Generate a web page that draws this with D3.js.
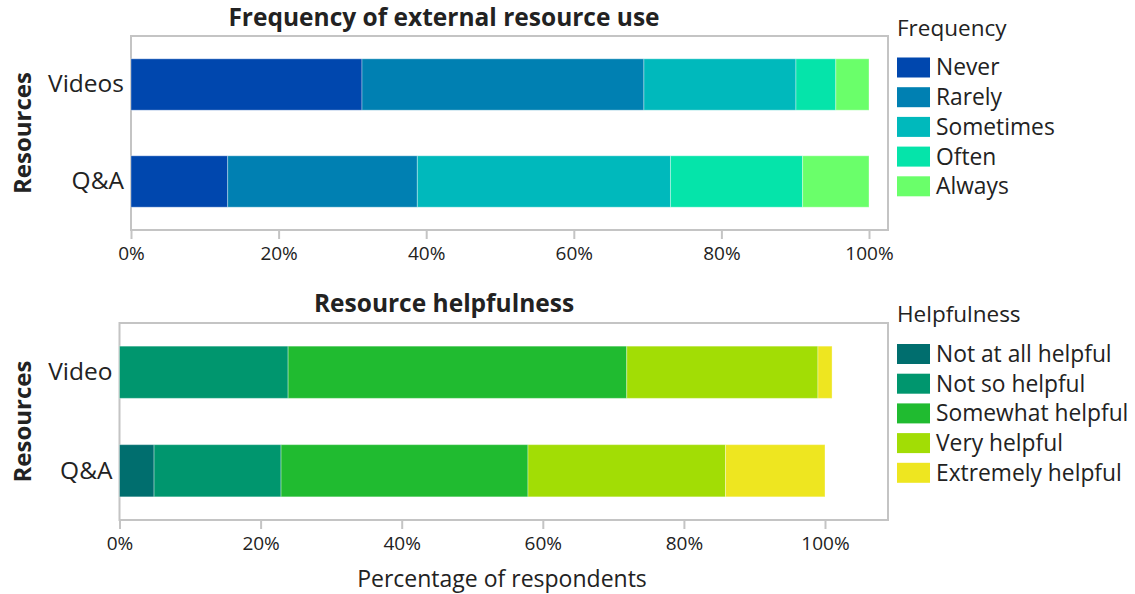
<!DOCTYPE html>
<html>
<head>
<meta charset="utf-8">
<script src="https://cdn.jsdelivr.net/npm/d3@7"></script>
<style>
  html, body { margin: 0; padding: 0; background: #fff; }
  svg { display: block; }
  text { font-family: "Open Sans", "Noto Sans", sans-serif; fill: #222; }
</style>
</head>
<body>
<svg id="chart" width="1135" height="594"></svg>
<script>
// ---------- data ----------
const resourcesTop = ["Videos", "Q&A"];
const frequencyLevels = ["Never", "Rarely", "Sometimes", "Often", "Always"];
const frequencyColors = ["#0047AE", "#0080B2", "#00B9BC", "#05E4AA", "#6AFF6A"];
const videosFrequency = [31.3, 38.2, 20.6, 5.4, 4.5];
const qaFrequency = [13.1, 25.7, 34.3, 17.9, 9.0];

const resourcesBottom = ["Video", "Q&A"];
const helpfulnessLevels = ["Not at all helpful", "Not so helpful", "Somewhat helpful", "Very helpful", "Extremely helpful"];
const helpfulnessColors = ["#006E6E", "#00966E", "#20BB30", "#A2DD05", "#EEE620"];
const videoHelpfulness = [0, 23.9, 48.0, 27.1, 2.0];
const qaHelpfulness = [4.9, 18.0, 35.0, 28.0, 14.1];

const tickValues = [0, 20, 40, 60, 80, 100];
const tickLabels = ["0%", "20%", "40%", "60%", "80%", "100%"];

// ---------- drawing ----------
const svg = d3.select("#chart");

function panel(opt) {
  const g = svg.append("g");
  const x = d3.scaleLinear().domain([0, 100]).range([opt.left, opt.x100]);
  const y = d3.scaleBand().domain(opt.categories).range([opt.top, opt.bottom])
    .paddingInner(0.47).paddingOuter(0.235);
  const color = d3.scaleOrdinal().domain(opt.levels).range(opt.colors);

  // frame
  g.append("rect")
    .attr("x", opt.left).attr("y", opt.top)
    .attr("width", opt.right - opt.left).attr("height", opt.bottom - opt.top)
    .attr("fill", "none").attr("stroke", "#c4c4c4").attr("stroke-width", 2);

  // stacked bars
  const rows = opt.categories.map((c, i) => {
    const obj = { cat: c };
    opt.levels.forEach((l, j) => obj[l] = opt.values[i][j]);
    return obj;
  });
  const stacked = d3.stack().keys(opt.levels)(rows);
  g.append("g").selectAll("g").data(stacked).join("g")
    .attr("fill", d => color(d.key))
    .selectAll("rect").data(d => d).join("rect")
    .attr("x", d => x(d[0]))
    .attr("y", d => y(d.data.cat))
    .attr("width", d => Math.max(0, x(d[1]) - x(d[0])))
    .attr("height", y.bandwidth())
    .attr("stroke", "#ffffff").attr("stroke-opacity", 0.35).attr("stroke-width", 1);

  // x axis
  const xAxis = d3.axisBottom(x).tickValues(tickValues)
    .tickFormat((d, i) => tickLabels[i]).tickSize(9).tickPadding(8);
  const ax = g.append("g").attr("transform", `translate(0,${opt.bottom})`).call(xAxis);
  ax.select(".domain").remove();
  ax.selectAll(".tick line").attr("stroke", "#c4c4c4").attr("stroke-width", 2);
  ax.selectAll(".tick text").attr("font-size", 19).attr("fill", "#333")
    .style("font-family", "'Open Sans', sans-serif");

  // y axis labels
  const yAxis = d3.axisLeft(y).tickSize(0).tickPadding(7);
  const ay = g.append("g").attr("transform", `translate(${opt.left},0)`).call(yAxis);
  ay.select(".domain").remove();
  ay.selectAll(".tick text").attr("font-size", 24.5).attr("fill", "#222")
    .style("font-family", "'Open Sans', sans-serif");

  // y title
  g.append("text")
    .attr("transform", `translate(31,${(opt.top + opt.bottom) / 2}) rotate(-90)`)
    .attr("text-anchor", "middle").attr("font-size", 24).attr("font-weight", "bold")
    .attr("fill", "#111")
    .text("Resources");

  // chart title
  g.append("text")
    .attr("x", 444).attr("y", opt.titleY)
    .attr("text-anchor", "middle").attr("font-size", 24.5).attr("font-weight", "bold")
    .attr("fill", "#111")
    .text(opt.title);

  // legend
  const lg = g.append("g").attr("transform", `translate(897,${opt.legendTop})`);
  lg.append("text").attr("x", 0).attr("y", -22).attr("font-size", 22.5).attr("fill", "#222")
    .text(opt.legendTitle);
  const item = lg.selectAll("g.item").data(opt.levels).join("g")
    .attr("class", "item")
    .attr("transform", (d, i) => `translate(0,${i * 29.7})`);
  item.append("rect").attr("width", 33).attr("height", 20).attr("fill", d => color(d));
  item.append("text").attr("x", 39).attr("y", 10).attr("dy", "0.35em")
    .attr("font-size", 22.8).attr("fill", "#222").text(d => d);

  if (opt.xTitle) {
    g.append("text").attr("x", 502).attr("y", 587)
      .attr("text-anchor", "middle").attr("font-size", 23).attr("fill", "#222")
      .text(opt.xTitle);
  }
}

panel({
  categories: resourcesTop, levels: frequencyLevels, colors: frequencyColors,
  values: [videosFrequency, qaFrequency],
  left: 131, x100: 869, right: 888, top: 36, bottom: 230,
  title: "Frequency of external resource use", titleY: 26,
  legendTitle: "Frequency", legendTop: 57.5
});

panel({
  categories: resourcesBottom, levels: helpfulnessLevels, colors: helpfulnessColors,
  values: [videoHelpfulness, qaHelpfulness],
  left: 119.5, x100: 825, right: 888, top: 323, bottom: 520,
  title: "Resource helpfulness", titleY: 312,
  legendTitle: "Helpfulness", legendTop: 344,
  xTitle: "Percentage of respondents"
});
</script>
</body>
</html>
